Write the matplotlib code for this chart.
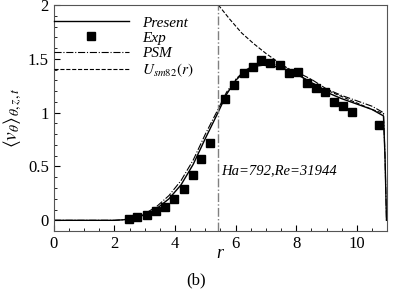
import matplotlib
matplotlib.use("Agg")
import matplotlib.pyplot as plt
from matplotlib.ticker import MultipleLocator

plt.rcParams['font.family'] = ['Liberation Serif', 'DejaVu Serif']
plt.rcParams['mathtext.fontset'] = 'stix'

# Present simulation
r_present = [0, 1, 2.0, 2.3, 2.6, 3.0, 3.4, 3.8, 4.2, 4.6, 5.0, 5.4, 5.7, 6.0, 6.3, 6.6,
             6.9, 7.2, 7.6, 8.0, 8.5, 9.0, 9.5, 10.0, 10.5, 10.88, 10.93, 10.98]
v_present = [0, 0, 0, 0.005, 0.02, 0.05, 0.11, 0.2, 0.33, 0.52, 0.76, 0.99, 1.17, 1.30, 1.38, 1.43,
             1.44, 1.435, 1.41, 1.36, 1.28, 1.19, 1.13, 1.08, 1.03, 0.97, 0.6, 0.0]

# PSM
r_psm = r_present
v_psm = [0, 0, 0, 0.005, 0.02, 0.06, 0.13, 0.23, 0.37, 0.56, 0.80, 1.02, 1.19, 1.31, 1.39, 1.44,
         1.45, 1.45, 1.43, 1.38, 1.31, 1.22, 1.16, 1.11, 1.06, 1.0, 0.6, 0.0]

# U_sm82(r)
r_usm = [5.43, 5.8, 6.2, 6.6, 7.0, 7.5, 8.0, 8.5, 9.0, 9.5, 10.0, 10.5, 10.9]
v_usm = [2.0, 1.87, 1.74, 1.64, 1.55, 1.45, 1.36, 1.28, 1.21, 1.15, 1.09, 1.03, 0.99]

# experiment
r_exp = [2.48, 2.76, 3.06, 3.38, 3.68, 3.98, 4.30, 4.58, 4.87, 5.17, 5.66, 5.96, 6.29, 6.58,
         6.84, 7.14, 7.46, 7.77, 8.07, 8.36, 8.66, 8.96, 9.25, 9.55, 9.84, 10.73]
v_exp = [0.01, 0.03, 0.05, 0.09, 0.12, 0.20, 0.29, 0.42, 0.57, 0.72, 1.13, 1.26, 1.37, 1.42,
         1.49, 1.46, 1.44, 1.37, 1.38, 1.28, 1.23, 1.19, 1.10, 1.06, 1.01, 0.89]

r_wall = 5.41

fig = plt.figure(figsize=(3.93, 2.94), dpi=100)
ax = fig.add_axes([0.137, 0.214, 0.848, 0.769])

ax.plot(r_present, v_present, '-', color='black', lw=1.0, label='Present')
ax.plot(r_exp, v_exp, 's', color='black', ms=6, ls='none', label='Exp')
ax.plot(r_psm, v_psm, '-.', color='black', lw=0.8, label='PSM')
ax.plot(r_usm, v_usm, '--', color='black', lw=0.8, label=r'$U_{sm82}(r)$')
ax.axvline(r_wall, color='gray', ls='-.', lw=1.0)

ax.set_xlim(0, 11)
ax.set_ylim(-0.1, 2.0)
ax.xaxis.set_major_locator(MultipleLocator(2))
ax.xaxis.set_minor_locator(MultipleLocator(0.5))
ax.yaxis.set_major_locator(MultipleLocator(0.5))
ax.yaxis.set_minor_locator(MultipleLocator(0.1))
ax.tick_params(which='both', direction='in', top=False, right=False, labelsize=12)
ax.tick_params(which='major', length=4)
ax.tick_params(which='minor', length=2)
ax.xaxis.set_major_formatter(matplotlib.ticker.FuncFormatter(lambda v, p: f'{v:g}'))
ax.yaxis.set_major_formatter(matplotlib.ticker.FuncFormatter(lambda v, p: f'{v:g}'))
for s in ax.spines.values():
    s.set_color('#555555')

ax.set_ylabel(r'$\left\langle v_\theta \right\rangle_{\theta,z,t}$', fontsize=14, labelpad=3)
fig.text(220 / 393, 1 - 253 / 294, 'r', style='italic', fontsize=13, ha='center', va='center')
fig.text(0.5, 1 - 280 / 294, '(b)', fontsize=12, ha='center', va='center')
ax.text(5.52, 0.46, 'Ha=792,Re=31944', style='italic', fontsize=10.5, va='center')

ax.legend(loc='upper left', bbox_to_anchor=(0, 0.952), frameon=False, handlelength=4.9,
          handletextpad=0.85, labelspacing=0.1, borderpad=0, borderaxespad=0,
          prop={'style': 'italic', 'size': 11})

fig.savefig('out.png', dpi=100)
